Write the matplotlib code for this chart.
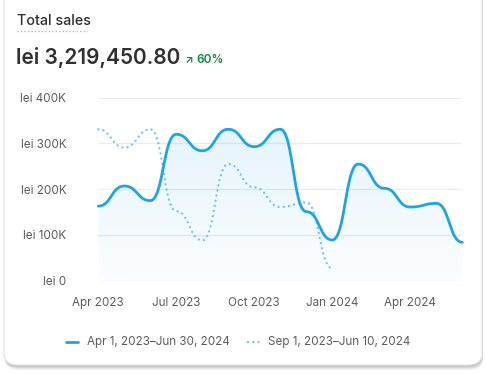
import numpy as np
import matplotlib
matplotlib.use("Agg")
import matplotlib.pyplot as plt
from matplotlib.patches import FancyBboxPatch
from matplotlib.lines import Line2D

plt.rcParams['font.family'] = ['Inter', 'DejaVu Sans']

# data (monthly totals, in lei)
months = ["Apr 2023", "May 2023", "Jun 2023", "Jul 2023", "Aug 2023", "Sep 2023",
          "Oct 2023", "Nov 2023", "Dec 2023", "Jan 2024", "Feb 2024", "Mar 2024",
          "Apr 2024", "May 2024", "Jun 2024"]
current = [163, 207, 175, 320, 284, 331, 293, 331, 151, 89, 255, 202, 161, 169, 84]
previous = [331, 291, 331, 152, 88, 255, 204, 161, 171, 27]
current = [v * 1000 for v in current]
previous = [v * 1000 for v in previous]

tick_months = ["Apr 2023", "Jul 2023", "Oct 2023", "Jan 2024", "Apr 2024"]
y_ticks = [0, 100000, 200000, 300000, 400000]
y_labels = ["lei 0", "lei 100K", "lei 200K", "lei 300K", "lei 400K"]
legend_labels = ["Apr 1, 2023\u2013Jun 30, 2024", "Sep 1, 2023\u2013Jun 10, 2024"]

blue = "#1fa3e3"
blue_light = "#6cc4ef"
dots = (0, (0.01, 2.2))
W, H = 486, 375


def bump(y, n=40):
    # horizontal tangent at every point (like d3 curveBumpX)
    y = np.asarray(y, float)
    xs, ys = [], []
    t = np.linspace(0, 1, n)
    for i in range(len(y) - 1):
        x0, x1 = i, i + 1
        xm = (x0 + x1) / 2
        bx = (1 - t)**3 * x0 + 3 * (1 - t)**2 * t * xm + 3 * (1 - t) * t**2 * xm + t**3 * x1
        by = (1 - t)**3 * y[i] + 3 * (1 - t)**2 * t * y[i] + 3 * (1 - t) * t**2 * y[i + 1] + t**3 * y[i + 1]
        xs.append(bx if i == 0 else bx[1:])
        ys.append(by if i == 0 else by[1:])
    return np.concatenate(xs), np.concatenate(ys)


def fx(px):
    return px / W


def fy(py):
    return 1 - py / H


fig = plt.figure(figsize=(4.86, 3.75), dpi=100)
fig.patch.set_facecolor("white")

# card with soft shadow
for k, a in enumerate([0.05, 0.05, 0.06, 0.08]):
    off = 4 - k
    sh = FancyBboxPatch((fx(4 + off * 0.3), fy(366 + off)), fx(478), (366 + 20) / H,
                        boxstyle="round,pad=0,rounding_size=0.03", transform=fig.transFigure,
                        fc="black", ec="none", alpha=a, zorder=0)
    fig.patches.append(sh)
card = FancyBboxPatch((fx(4), fy(365)), fx(478), (365 + 20) / H,
                      boxstyle="round,pad=0,rounding_size=0.03", transform=fig.transFigure,
                      fc="white", ec="#e3e3e3", lw=0.8, zorder=1)
fig.patches.append(card)

# header
fig.text(fx(17), fy(21), "Total sales", fontsize=10.3, fontweight="medium", color="#303030",
         va="center", ha="left")
fig.lines.append(Line2D([fx(17), fx(87)], [fy(31), fy(31)], transform=fig.transFigure,
                        color="#b5b5b5", lw=1, ls=(0, (1, 1.5))))
fig.text(fx(16), fy(58), "lei 3,219,450.80", fontsize=15, fontweight="semibold",
         color="#303030", va="center", ha="left")
fig.text(fx(185), fy(60), "\u2197", fontsize=8, fontweight="bold", color="#0c8a47",
         va="center", ha="left")
fig.text(fx(196), fy(60), "60%", fontsize=8.5, fontweight="semibold", color="#0c8a47",
         va="center", ha="left")

# chart area
x0, x1 = 98.3, 462.3
ytop, ybot = 97.7, 280.7
ax = fig.add_axes([fx(x0), fy(ybot), (x1 - x0) / W, (ybot - ytop) / H])
ax.set_zorder(5)
ax.patch.set_alpha(0)
for sp in ax.spines.values():
    sp.set_visible(False)
ax.set_yticks(y_ticks)
ax.set_yticklabels(y_labels)
ax.set_xticks([months.index(m) for m in tick_months])
ax.set_xticklabels(tick_months)
ax.tick_params(length=0, labelsize=8.4, labelcolor="#5c5c5c")
ax.tick_params(axis="y", pad=23)
ax.tick_params(axis="x", pad=12)
ax.grid(axis="y", color="#ebebeb", lw=1)
ax.set_axisbelow(True)

cx, cy = bump(current)
px, py = bump(previous)

# gradient fill under current line
poly = ax.fill_between(cx, cy, 0, color="none", lw=0)
grad = np.linspace(1, 0, 256).reshape(-1, 1)
rgba = np.zeros((256, 1, 4))
rgba[..., 0], rgba[..., 1], rgba[..., 2] = 0.12, 0.64, 0.89
rgba[..., 3] = 0.02 + 0.10 * grad
img = ax.imshow(rgba, extent=[0, len(months) - 1, 0, 340000], aspect="auto",
                origin="upper", zorder=1)
img.set_clip_path(poly.get_paths()[0], transform=ax.transData)
ax.set_xlim(0, len(months) - 1)
ax.set_ylim(0, 400000)

ax.plot(px, py, color=blue_light, lw=1.7, ls=dots, dash_capstyle="round",
        zorder=3, clip_on=False)
ax.plot(cx, cy, color=blue, lw=2, solid_capstyle="round", zorder=4, clip_on=False)

# legend
fig.lines.append(Line2D([fx(66), fx(78)], [fy(342), fy(342)], transform=fig.transFigure,
                        color=blue, lw=2, solid_capstyle="round"))
fig.text(fx(87), fy(342), legend_labels[0], fontsize=8.4, color="#5c5c5c", va="center")
fig.lines.append(Line2D([fx(248), fx(260)], [fy(342), fy(342)], transform=fig.transFigure,
                        color=blue_light, lw=1.7, ls=dots, dash_capstyle="round"))
fig.text(fx(268), fy(342), legend_labels[1], fontsize=8.4, color="#5c5c5c", va="center")

fig.savefig("out.png", dpi=100)
